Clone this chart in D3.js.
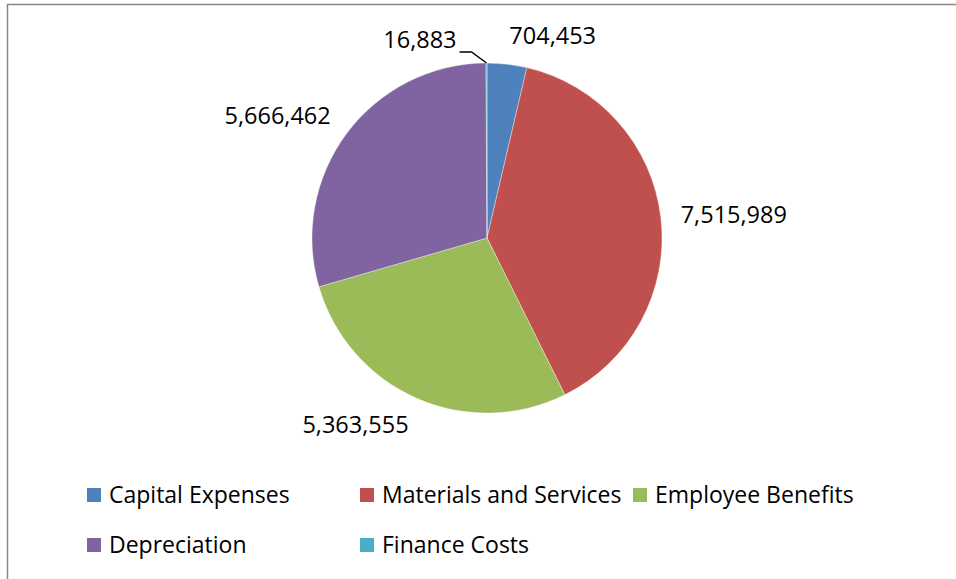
<!DOCTYPE html>
<html>
<head>
<meta charset="utf-8">
<script src="https://cdn.jsdelivr.net/npm/d3@7"></script>
<style>
  html, body { margin: 0; padding: 0; background: #fff; }
  svg { display: block; }
  text { font-family: "Open Sans", "Noto Sans", sans-serif; fill: #000; }
</style>
</head>
<body>
<svg id="chart" width="956" height="579"></svg>
<script>
// Expense categories and amounts, in drawing order (clockwise from 12 o'clock)
const categories = ["Capital Expenses", "Materials and Services", "Employee Benefits", "Depreciation", "Finance Costs"];
const amounts = [704453, 7515989, 5363555, 5666462, 16883];
const colors = ["#4F81BD", "#C0504D", "#9BBB59", "#8064A2", "#4BACC6"];

const svg = d3.select("#chart");
const W = 956, H = 579;

// Chart area frame (extends past the right and bottom edges)
svg.append("rect")
  .attr("x", 7.5).attr("y", 4.5)
  .attr("width", W + 20).attr("height", H + 20)
  .attr("fill", "#fff")
  .attr("stroke", "#868686")
  .attr("stroke-width", 1.5);

const cx = 487, cy = 238, r = 175;
const fmt = d3.format(",");

const data = categories.map((c, i) => ({ name: c, value: amounts[i], color: colors[i] }));
const pie = d3.pie().sort(null).value(d => d.value);
const arcs = pie(data);
const arc = d3.arc().innerRadius(0).outerRadius(r);

const g = svg.append("g").attr("transform", `translate(${cx},${cy})`);

g.selectAll("path.slice")
  .data(arcs)
  .enter().append("path")
  .attr("class", "slice")
  .attr("d", arc)
  .attr("fill", d => d.data.color)
  .attr("stroke", "#fff")
  .attr("stroke-width", 0.6)
  .attr("stroke-opacity", 0.6);

// Data labels: outside the pie along each slice's mid angle
const labelFont = 23.5;
const gap = 20;
arcs.forEach(d => {
  const mid = (d.startAngle + d.endAngle) / 2;
  const s = Math.sin(mid), c = Math.cos(mid);
  const share = (d.endAngle - d.startAngle) / (2 * Math.PI);
  if (share < 0.01) {
    // Tiny slice: label pulled up-left with a leader line
    const ex = r * s, ey = -r * c;
    const bx = ex - 15, by = ey - 11;
    const tx = bx - 12;
    g.append("polyline")
      .attr("points", `${ex},${ey} ${bx},${by} ${tx},${by}`)
      .attr("fill", "none")
      .attr("stroke", "#000")
      .attr("stroke-width", 1.5);
    g.append("text")
      .attr("x", tx - 3)
      .attr("y", by - 12)
      .attr("dy", "0.35em")
      .attr("text-anchor", "end")
      .attr("font-size", labelFont)
      .text(fmt(d.data.value));
  } else {
    const px = (r + gap) * s;
    const py = -(r + gap) * c - c * 9;
    g.append("text")
      .attr("x", px)
      .attr("y", py)
      .attr("dy", "0.35em")
      .attr("text-anchor", s >= 0 ? "start" : "end")
      .attr("font-size", labelFont)
      .text(fmt(d.data.value));
  }
});

// Legend: three items per row
const legendCols = [87, 360, 633];
const legendRows = [495, 545];
const legend = svg.append("g");
data.forEach((d, i) => {
  const col = i % 3, row = Math.floor(i / 3);
  const x = legendCols[col], y = legendRows[row];
  legend.append("rect")
    .attr("x", x).attr("y", y - 7)
    .attr("width", 14).attr("height", 14)
    .attr("fill", d.color);
  legend.append("text")
    .attr("x", x + 22).attr("y", y)
    .attr("dy", "0.35em")
    .attr("font-size", 23)
    .text(d.name);
});
</script>
</body>
</html>
